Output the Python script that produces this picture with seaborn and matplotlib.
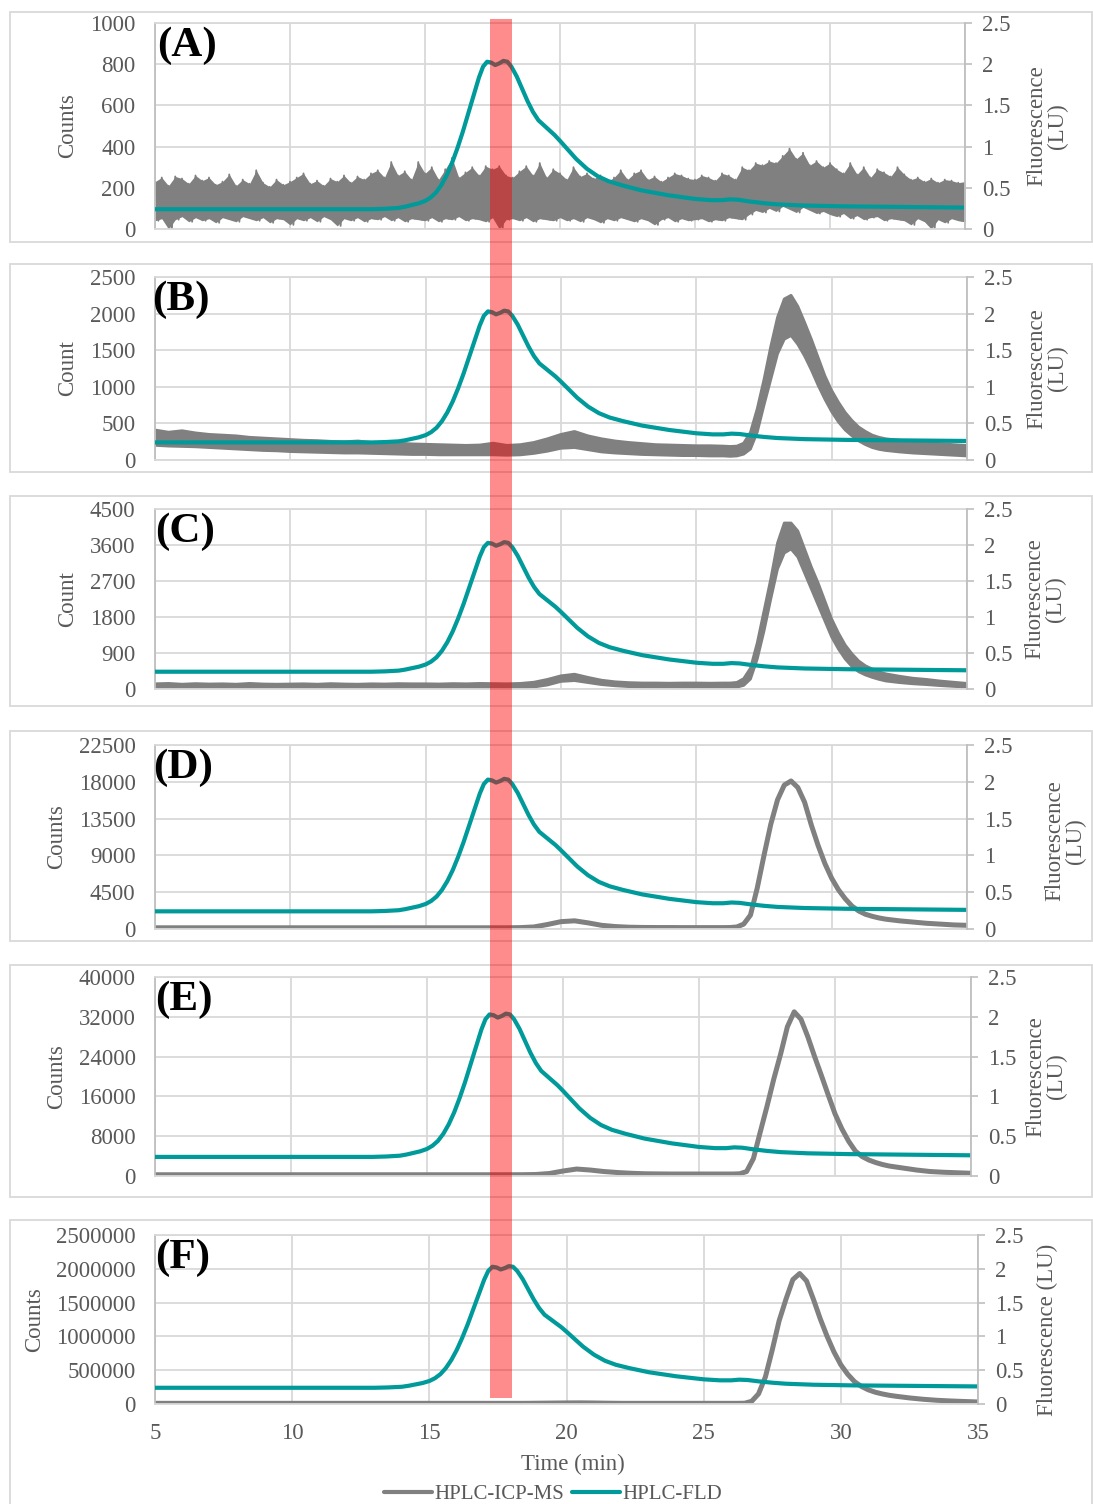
import numpy as np
import matplotlib
matplotlib.use("Agg")
import matplotlib.pyplot as plt
import matplotlib.transforms as mtransforms
from matplotlib.patches import Rectangle
from matplotlib.lines import Line2D
import seaborn as sns

# ---------------- data ----------------
time_min = [5.0, 5.5, 6.0, 6.5, 7.0, 7.5, 8.0, 8.5, 9.0, 9.5,
            10.0, 10.5, 11.0, 11.5, 12.0, 12.5, 13.0, 13.5, 14.0, 14.5,
            15.0, 15.5, 16.0, 16.5, 17.0, 17.5, 18.0, 18.5, 19.0, 19.5,
            20.0, 20.5, 21.0, 21.5, 22.0, 22.5, 23.0, 23.5, 24.0, 24.5,
            25.0, 25.5, 26.0, 26.25, 26.5, 26.75, 27.0, 27.25, 27.5, 27.75,
            28.0, 28.25, 28.5, 28.75, 29.0, 29.25, 29.5, 29.75, 30.0, 30.25,
            30.5, 30.75, 31.0, 31.25, 31.5, 31.75, 32.0, 32.5, 33.0, 33.5, 34.0, 34.5, 35.0]

# HPLC-FLD trace (LU), identical in all panels
fld_time = [5.0, 10.0, 13.0, 13.5, 14.0, 14.25, 14.5, 14.75,
            15.0, 15.2, 15.4, 15.6, 15.8, 16.0, 16.2, 16.4, 16.6, 16.8,
            17.0, 17.15, 17.3, 17.45, 17.6, 17.75, 17.9, 18.05,
            18.2, 18.4, 18.6, 18.8, 19.0, 19.2, 19.4, 19.6, 19.8,
            20.0, 20.3, 20.6, 21.0, 21.4, 21.8, 22.3, 23.0, 24.0,
            25.0, 25.6, 26.0, 26.3, 26.6, 27.0, 27.5, 28.0, 29.0,
            30.5, 32.0, 35.0]
fld_lu = [0.24, 0.24, 0.24, 0.245, 0.255, 0.27, 0.29, 0.31,
          0.34, 0.38, 0.44, 0.53, 0.65, 0.80, 0.98, 1.18, 1.40, 1.62,
          1.84, 1.97, 2.03, 2.02, 1.99, 2.01, 2.04, 2.03,
          1.97, 1.85, 1.70, 1.55, 1.42, 1.32, 1.26, 1.20, 1.14,
          1.07, 0.96, 0.85, 0.73, 0.64, 0.58, 0.53, 0.47, 0.41,
          0.365, 0.35, 0.35, 0.36, 0.355, 0.335, 0.315, 0.30, 0.285,
          0.275, 0.27, 0.26]

# Panel A: noisy ICP-MS signal, local maxima / minima every 0.25 min
a_time = np.round(np.arange(5.0, 35.0001, 0.25), 2)
a_upper = [230,
           250, 210, 255, 245, 220, 260, 235, 250, 215, 230,
           265, 210, 240, 220, 285, 225, 205, 240, 215, 230,
           250, 270, 220, 235, 210, 245, 230, 260, 225, 255,
           240, 270, 285, 250, 325, 260, 280, 240, 325, 270,
           300, 240, 290, 345, 250, 275, 300, 260, 305, 290,
           305, 260, 250, 280, 305, 260, 320, 250, 290, 270,
           240, 300, 255, 270, 245, 260, 230, 250, 285, 240,
           270, 285, 240, 255, 230, 250, 270, 260, 245, 240,
           260, 250, 235, 270, 260, 240, 300, 285, 320, 310,
           330, 320, 355, 390, 340, 370, 310, 330, 300, 320,
           290, 270, 320, 265, 300, 250, 290, 275, 255, 300,
           265, 240, 250, 230, 245, 225, 240, 235, 225, 230]
a_lower = [40,
           50, 0, 45, 60, 35, 55, 40, 50, 30, 55,
           45, 35, 60, 50, 40, 55, 30, 50, 45, 20,
           50, 40, 55, 35, 60, 45, 15, 50, 40, 55,
           35, 50, 45, 60, 40, 55, 35, 50, 45, 40,
           55, 35, 50, 45, 60, 40, 50, 45, 35, 55,
           0, 45, 50, 40, 55, 35, 50, 45, 40, 55,
           40, 50, 35, 55, 45, 30, 50, 40, 55, 45,
           35, 50, 40, 20, 45, 55, 35, 50, 40, 45,
           50, 35, 45, 40, 55, 50, 45, 70, 90, 80,
           100, 85, 110, 95, 80, 105, 90, 75, 85, 70,
           60, 75, 50, 65, 45, 55, 60, 40, 50, 45,
           40, 20, 50, 35, 0, 45, 30, 50, 40, 35]

# Panel B: low / high edges of the ICP-MS trace
b_low = [200, 190, 185, 180, 170, 160, 150, 140, 130, 125,
         115, 110, 105, 100, 95, 95, 90, 85, 80, 75,
         75, 70, 70, 70, 70, 70, 65, 70, 90, 120,
         160, 170, 140, 110, 95, 85, 75, 70, 65, 60,
         60, 55, 55, 50, 55, 80, 150, 380, 750, 1100,
         1450, 1650, 1700, 1580, 1420, 1230, 1020, 830, 660, 520,
         410, 330, 260, 210, 170, 145, 130, 110, 95, 85, 75, 65, 55]
b_high = [410, 380, 400, 370, 350, 340, 330, 310, 300, 290,
          280, 270, 265, 255, 250, 260, 240, 235, 230, 220,
          215, 210, 205, 200, 205, 230, 200, 210, 240, 290,
          350, 390, 330, 290, 260, 240, 225, 210, 205, 200,
          195, 195, 190, 185, 190, 230, 380, 700, 1100, 1550,
          1950, 2200, 2250, 2100, 1880, 1650, 1400, 1150, 950, 790,
          650, 540, 450, 390, 340, 310, 290, 270, 255, 240, 225, 210, 200]

# Panel C
c_low = [20, 20, 25, 20, 20, 25, 20, 20, 25, 20,
         20, 20, 20, 25, 20, 20, 20, 20, 25, 20,
         20, 20, 25, 20, 25, 20, 25, 30, 50, 100,
         190, 210, 160, 110, 80, 60, 50, 45, 45, 40,
         40, 40, 40, 40, 45, 90, 250, 750, 1450, 2250,
         3000, 3400, 3500, 3300, 2900, 2500, 2100, 1700, 1300, 1000,
         750, 560, 430, 350, 290, 240, 200, 160, 130, 110, 85, 65, 45]
c_high = [130, 140, 120, 135, 125, 130, 120, 140, 125, 120,
          125, 130, 120, 135, 125, 120, 130, 125, 135, 130,
          130, 125, 135, 130, 140, 135, 130, 140, 170, 240,
          330, 370, 290, 220, 180, 160, 150, 150, 145, 150,
          150, 145, 150, 150, 165, 260, 520, 1150, 1950, 2750,
          3650, 4150, 4150, 3950, 3500, 3050, 2650, 2200, 1750, 1400,
          1100, 880, 700, 580, 500, 430, 380, 320, 270, 240, 200, 170, 140]

# Panels D, E, F
d_counts = [150, 150, 150, 150, 150, 150, 150, 150, 150, 150,
            150, 150, 150, 150, 150, 150, 150, 150, 150, 150,
            150, 150, 150, 150, 150, 150, 150, 170, 250, 550,
            900, 1000, 750, 450, 300, 220, 190, 180, 180, 170,
            170, 170, 170, 180, 250, 600, 1700, 5000, 9000, 12800,
            15800, 17600, 18100, 17300, 15500, 12700, 10200, 8000, 6200, 4800,
            3700, 2800, 2200, 1800, 1550, 1350, 1200, 1000, 850, 700, 600, 500, 450]
e_counts = [250, 250, 250, 250, 250, 250, 250, 250, 250, 250,
            250, 250, 250, 250, 250, 250, 250, 250, 250, 250,
            250, 250, 250, 250, 250, 250, 250, 260, 300, 500,
            1000, 1400, 1200, 900, 700, 550, 450, 420, 400, 400,
            400, 400, 400, 400, 450, 900, 3500, 8800, 14000, 19500,
            24500, 30000, 33000, 31500, 28000, 24000, 20200, 16300, 12500, 9500,
            7000, 5000, 3900, 3200, 2700, 2300, 2000, 1600, 1200, 900, 750, 650, 550]
f_counts = [10000, 10000, 10000, 10000, 10000, 10000, 10000, 10000, 10000, 10000,
            10000, 10000, 10000, 10000, 10000, 10000, 10000, 10000, 10000, 10000,
            10000, 10000, 10000, 10000, 10000, 10000, 10000, 10000, 12000, 14000,
            16000, 17000, 15000, 12000, 10000, 10000, 10000, 10000, 10000, 10000,
            10000, 10000, 10000, 10000, 12000, 40000, 150000, 400000, 800000, 1230000,
            1550000, 1840000, 1930000, 1820000, 1550000, 1260000, 1000000, 770000, 580000, 440000,
            330000, 260000, 210000, 175000, 150000, 130000, 115000, 90000, 70000, 55000, 45000, 37000, 30000]

panel_labels = ["(A)", "(B)", "(C)", "(D)", "(E)", "(F)"]
left_labels = ["Counts", "Count", "Count", "Counts", "Counts", "Counts"]
right_labels = ["Fluorescence\n(LU)"] * 5 + ["Fluorescence (LU)"]
y_max = [1000, 2500, 4500, 22500, 40000, 2500000]
y_step = [200, 500, 900, 4500, 8000, 500000]
fl_ticks = [0, 0.5, 1, 1.5, 2, 2.5]
fl_tick_labels = ["0", "0.5", "1", "1.5", "2", "2.5"]
x_ticks = [5, 10, 15, 20, 25, 30, 35]
legend_labels = ["HPLC-ICP-MS", "HPLC-FLD"]

# ---------------- style ----------------
sns.set_theme(style="white")
plt.rcParams['font.family'] = ['Liberation Serif', 'DejaVu Serif']

W, H = 1093, 1504
GRID = '#d9d9d9'
AXC = '#bfbfbf'
TXT = '#595959'
GRAY = '#808080'
TEAL = '#009a9a'
FS = 16.5

# layout in pixels: (plot top, plot bottom, plot right, box top, box bottom,
#                    left label x, right label x, right label y frac, panel label x)
layout = [
    (23, 229, 965, 12, 242, 68, 1047, 0.5, 157),
    (277, 460, 967, 264, 472, 68, 1047, 0.5, 152),
    (509, 689, 967, 496, 706, 68, 1045, 0.5, 155),
    (745, 929, 967, 731, 941, 57, 1065, 0.48, 153),
    (977, 1176, 971, 965, 1197, 57, 1046, 0.5, 155),
    (1235, 1404, 978, 1220, 1515, 35, 1047, 0.44, 155),
]
LEFT = 155

fig = plt.figure(figsize=(W / 100, H / 100), dpi=100)

axes = []
for i, (top, bot, right, btop, bbot, ylx, ryx, ryf, plx) in enumerate(layout):
    # panel frame
    fig.add_artist(Rectangle((10 / W, 1 - bbot / H), (1092 - 10) / W, (bbot - btop) / H,
                             transform=fig.transFigure, fill=False,
                             edgecolor=GRID, lw=1.3, zorder=-1))
    ax = fig.add_axes([LEFT / W, 1 - bot / H, (right - LEFT) / W, (bot - top) / H])
    axes.append(ax)
    wpx = right - LEFT
    hpx = bot - top

    # ICP-MS
    if i == 0:
        ax.fill_between(a_time, a_lower, a_upper, color=GRAY, lw=0)
        xz = np.column_stack([a_time, a_time + 0.125]).ravel()
        yz = np.column_stack([a_upper, a_lower]).ravel()
        sns.lineplot(x=xz, y=yz, sort=False, estimator=None, color=GRAY, lw=1.3, ax=ax)
    elif i in (1, 2):
        lo = b_low if i == 1 else c_low
        hi = b_high if i == 1 else c_high
        ax.fill_between(time_min, lo, hi, color=GRAY, lw=0)
        sns.lineplot(x=time_min, y=lo, color=GRAY, lw=2.0, ax=ax)
        sns.lineplot(x=time_min, y=hi, color=GRAY, lw=2.0, ax=ax)
    else:
        yy = [d_counts, e_counts, f_counts][i - 3]
        sns.lineplot(x=time_min, y=yy, color=GRAY, linewidth=3.6, ax=ax)

    ax.set_xlim(5, 35)
    ax.set_ylim(0, y_max[i])
    ax.set_xticks(x_ticks)
    ax.set_yticks(np.arange(0, y_max[i] + 1, y_step[i]))
    ax.set_yticklabels([str(int(v)) for v in np.arange(0, y_max[i] + 1, y_step[i])])
    ax.grid(True, color=GRID, lw=1.3)
    ax.set_axisbelow(True)
    for s in ['top', 'bottom']:
        ax.spines[s].set_color(GRID)
        ax.spines[s].set_linewidth(1.3)
    ax.spines['right'].set_visible(False)
    ax.spines['left'].set_color(AXC)
    ax.spines['left'].set_linewidth(1.3)
    ax.tick_params(axis='y', length=0, pad=14, labelsize=FS, labelcolor=TXT)
    if i == 5:
        ax.tick_params(axis='x', length=0, pad=14, labelsize=FS, labelcolor=TXT)
        ax.set_xlabel("Time (min)", fontsize=FS, color=TXT, va='center')
        ax.xaxis.set_label_coords((573 - LEFT) / wpx, -(1464 - bot) / hpx)
    else:
        ax.tick_params(axis='x', length=0, labelbottom=False)
        ax.set_xlabel("")

    ax.set_ylabel(left_labels[i], fontsize=FS, color=TXT, va='center')
    ax.yaxis.set_label_coords((ylx - LEFT) / wpx, 0.5)

    # FLD on secondary axis
    tw = ax.twinx()
    sns.lineplot(x=fld_time, y=fld_lu, color=TEAL, linewidth=3.0, ax=tw)
    tw.set_ylim(0, 2.5)
    tw.set_yticks(fl_ticks)
    tw.set_yticklabels(fl_tick_labels)
    tw.grid(False)
    for s in ['top', 'bottom', 'left']:
        tw.spines[s].set_visible(False)
    tw.spines['right'].set_color(AXC)
    tw.spines['right'].set_linewidth(1.3)
    tw.tick_params(axis='y', direction='out', length=5, width=1.2, color=AXC,
                   pad=7, labelsize=FS, labelcolor=TXT)
    tw.set_ylabel(right_labels[i], fontsize=FS, color=TXT, va='center',
                  linespacing=1.0, rotation=90)
    tw.yaxis.set_label_coords((ryx - LEFT) / wpx, ryf)

    # panel label
    ax.text((plx - LEFT) / wpx, 1.0 - 4.0 / hpx, panel_labels[i], transform=ax.transAxes,
            fontsize=31, fontweight='bold', color='black', ha='left', va='top', zorder=20)

# red highlight band across all panels (x in data units of the bottom axis)
axF = axes[-1]
trans = mtransforms.blended_transform_factory(axF.transData, fig.transFigure)
fig.add_artist(Rectangle((17.21, 1 - 1398 / H), 0.80, (1398 - 19) / H, transform=trans,
                         facecolor='red', alpha=0.45, lw=0, zorder=10))

# legend
handles = [Line2D([], [], color=GRAY, lw=3), Line2D([], [], color=TEAL, lw=3)]
fig.legend(handles, legend_labels, loc='center', bbox_to_anchor=(553 / W, 1 - 1494 / H),
           ncol=2, frameon=False, fontsize=15, handlelength=2.3, handletextpad=0.1,
           columnspacing=0.4, labelcolor=TXT)

fig.savefig("out.png", dpi=100)
